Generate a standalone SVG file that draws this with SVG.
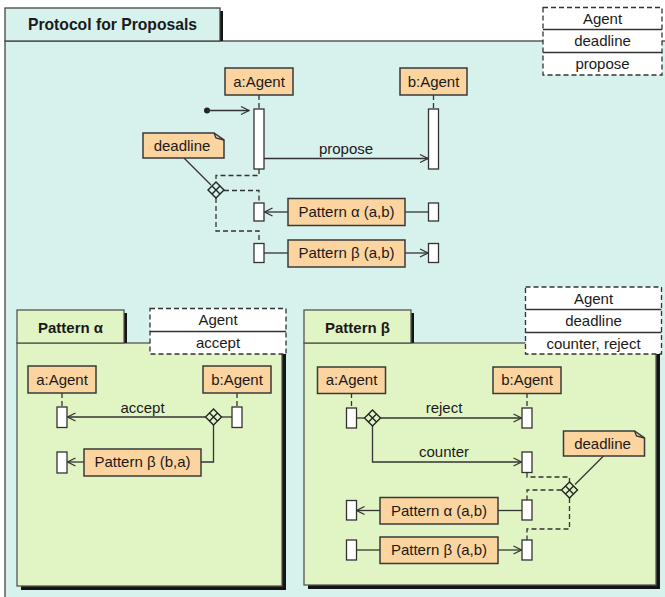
<svg xmlns="http://www.w3.org/2000/svg" width="665" height="597" viewBox="0 0 665 597">
<defs>
<style>
text{font-family:"Liberation Sans",Arial,sans-serif;font-size:15px;fill:#1a1a1a;text-anchor:middle}
.title{font-weight:bold}
.outer{fill:#d7f1ec;stroke:#444;stroke-width:1.3}
.sub{fill:#e1f5c4;stroke:#555;stroke-width:1.3}
.shadow{fill:#141414}
.dbox{fill:#fff;stroke:#333;stroke-width:1.3;stroke-dasharray:5,3}
.sep{stroke:#333;stroke-width:1.3}
.node{fill:#fcd49f;stroke:#3a3a3a;stroke-width:1.5}
.bar{fill:#fff;stroke:#333;stroke-width:1.3}
.ln{fill:none;stroke:#333;stroke-width:1.3}
.dash{fill:none;stroke:#333;stroke-width:1.3;stroke-dasharray:5,3}
.msg{fill:none;stroke:#333;stroke-width:1.3;marker-end:url(#arr)}
.dia{stroke:#222;stroke-width:1.4}
</style>
<marker id="arr" markerUnits="userSpaceOnUse" markerWidth="12" markerHeight="12" viewBox="0 0 12 12" refX="10" refY="6" orient="auto"><path d="M2,2 L10,6 L2,10" fill="none" stroke="#333" stroke-width="1.3"/></marker>
</defs>

<!-- Outer frame -->
<g id="frame-protocol">
<rect class="outer" x="5" y="41" width="700" height="600"/>
<rect class="shadow" x="8" y="11" width="215" height="30"/>
<rect class="outer" x="5" y="8" width="215" height="33"/>
<text class="title" x="112.5" y="30" style="font-size:15.7px">Protocol for Proposals</text>
</g>
<g id="sig-protocol">
<rect class="dbox" x="543" y="7.5" width="119" height="67.5"/>
<line class="sep" x1="543" y1="29.5" x2="662" y2="29.5"/>
<line class="sep" x1="543" y1="52.5" x2="662" y2="52.5"/>
<text x="602.5" y="24">Agent</text>
<text x="602.5" y="46">deadline</text>
<text x="602.5" y="69">propose</text>
</g>

<!-- Pattern alpha frame -->
<g id="frame-alpha">
<rect class="shadow" x="21" y="347" width="265" height="243"/>
<rect class="sub" x="17" y="343" width="265" height="243"/>
<rect class="shadow" x="20" y="313" width="107" height="30"/>
<rect class="sub" x="17" y="310" width="107" height="33"/>
<text class="title" x="70.5" y="332.5">Pattern α</text>
</g>
<g id="sig-alpha">
<rect class="dbox" x="150" y="308.5" width="136" height="45.5"/>
<line class="sep" x1="150" y1="331.5" x2="286" y2="331.5"/>
<text x="218" y="325">Agent</text>
<text x="218" y="348">accept</text>
</g>

<!-- Pattern beta frame -->
<g id="frame-beta">
<rect class="shadow" x="308" y="347" width="352" height="242"/>
<rect class="sub" x="304" y="343" width="352" height="242"/>
<rect class="shadow" x="307" y="313" width="107" height="30"/>
<rect class="sub" x="304" y="310" width="107" height="33"/>
<text class="title" x="357.5" y="332.5">Pattern β</text>
</g>
<g id="sig-beta">
<rect class="dbox" x="525.5" y="287" width="136" height="67"/>
<line class="sep" x1="525.5" y1="309.5" x2="661.5" y2="309.5"/>
<line class="sep" x1="525.5" y1="332.5" x2="661.5" y2="332.5"/>
<text x="593.5" y="304">Agent</text>
<text x="593.5" y="326">deadline</text>
<text x="593.5" y="349">counter, reject</text>
</g>

<!-- Connectors -->
<g id="connectors">
<!-- main lifelines -->
<line class="dash" x1="259" y1="95" x2="259" y2="109"/>
<line class="dash" x1="433.5" y1="95" x2="433.5" y2="109"/>
<circle cx="207" cy="110.5" r="3" fill="#222"/>
<line class="msg" x1="207" y1="110.5" x2="249" y2="110.5"/>
<line class="msg" x1="264" y1="158.5" x2="428" y2="158.5"/>
<text x="346" y="154">propose</text>
<line class="ln" x1="184" y1="158" x2="211" y2="185"/>
<path class="dash" d="M259,169 V175.5 H216 V182"/>
<path class="dash" d="M224,190.5 H259 V203"/>
<path class="dash" d="M216,198 V231 H259 V243"/>
<line class="msg" x1="288" y1="212" x2="264.5" y2="212"/>
<line class="ln" x1="405" y1="212" x2="428" y2="212"/>
<line class="ln" x1="264" y1="253" x2="288" y2="253"/>
<line class="msg" x1="405" y1="253" x2="428" y2="253"/>

<!-- alpha -->
<line class="dash" x1="62" y1="393" x2="62" y2="407"/>
<line class="dash" x1="237" y1="393" x2="237" y2="407"/>
<line class="msg" x1="205.5" y1="417" x2="67.5" y2="417"/>
<text x="142.5" y="412.5">accept</text>
<line class="ln" x1="221.5" y1="417" x2="232" y2="417"/>
<path class="ln" d="M213.5,425 V462 H201"/>
<line class="msg" x1="84" y1="462" x2="67.5" y2="462"/>

<!-- beta -->
<line class="dash" x1="351.5" y1="393" x2="351.5" y2="408"/>
<line class="dash" x1="527" y1="393" x2="527" y2="408"/>
<line class="ln" x1="356" y1="418" x2="364.5" y2="418"/>
<line class="msg" x1="380.5" y1="418" x2="521.5" y2="418"/>
<text x="444" y="413">reject</text>
<path class="msg" d="M372.5,426 V462 H521.5"/>
<text x="444" y="457">counter</text>
<line class="ln" x1="603.5" y1="456" x2="575" y2="484.5"/>
<path class="dash" d="M527,472.5 V477 H569.5 V482"/>
<path class="dash" d="M561.5,490 H527 V500"/>
<path class="dash" d="M569.5,498 V529 H527 V540"/>
<line class="msg" x1="380" y1="510.5" x2="356.5" y2="510.5"/>
<line class="ln" x1="498" y1="510.5" x2="522" y2="510.5"/>
<line class="ln" x1="356" y1="550" x2="380" y2="550"/>
<line class="msg" x1="498" y1="550" x2="521.5" y2="550"/>
</g>

<!-- Main nodes -->
<g id="main-a-agent"><rect class="node" x="225" y="68" width="68" height="27"/><text x="259" y="87">a:Agent</text></g>
<g id="main-b-agent"><rect class="node" x="400" y="68" width="67" height="27"/><text x="433.5" y="87">b:Agent</text></g>
<g id="main-a-bar"><rect class="bar" x="254" y="109" width="10" height="60"/></g>
<g id="main-b-bar"><rect class="bar" x="428.5" y="109" width="10" height="60"/></g>
<g id="main-deadline"><path class="node" d="M143,133 H214 L224,140 V158 H143 Z"/><path class="ln" d="M214,133 L216,138 L224,140"/><text x="182" y="151">deadline</text></g>
<g id="main-choice"><path class="dia" fill="#d7f1ec" d="M216,182 L224,190 L216,198 L208,190 Z M212,186 L220,194 M220,186 L212,194"/></g>
<g id="main-alpha-a-bar"><rect class="bar" x="254" y="203" width="10" height="18"/></g>
<g id="main-alpha-b-bar"><rect class="bar" x="428.5" y="203" width="10" height="18"/></g>
<g id="main-pattern-alpha"><rect class="node" x="288" y="198.5" width="117" height="27"/><text x="346.5" y="217">Pattern α (a,b)</text></g>
<g id="main-beta-a-bar"><rect class="bar" x="254" y="243.5" width="10" height="19"/></g>
<g id="main-beta-b-bar"><rect class="bar" x="428.5" y="243.5" width="10" height="19"/></g>
<g id="main-pattern-beta"><rect class="node" x="288" y="240" width="117" height="27"/><text x="346.5" y="258">Pattern β (a,b)</text></g>

<!-- Alpha nodes -->
<g id="alpha-a-agent"><rect class="node" x="28" y="366" width="68" height="27"/><text x="62" y="385">a:Agent</text></g>
<g id="alpha-b-agent"><rect class="node" x="203" y="366" width="68" height="27"/><text x="237" y="385">b:Agent</text></g>
<g id="alpha-a-bar"><rect class="bar" x="57" y="407" width="10" height="20.5"/></g>
<g id="alpha-b-bar"><rect class="bar" x="232" y="407" width="10" height="20.5"/></g>
<g id="alpha-choice"><path class="dia" fill="#e1f5c4" d="M213.5,409 L221.5,417 L213.5,425 L205.5,417 Z M209.5,413 L217.5,421 M217.5,413 L209.5,421"/></g>
<g id="alpha-ret-bar"><rect class="bar" x="57" y="452" width="10" height="21"/></g>
<g id="alpha-pattern-beta"><rect class="node" x="84" y="449" width="117" height="27"/><text x="142.5" y="467">Pattern β (b,a)</text></g>

<!-- Beta nodes -->
<g id="beta-a-agent"><rect class="node" x="317.5" y="367" width="68" height="26.5"/><text x="351.5" y="385">a:Agent</text></g>
<g id="beta-b-agent"><rect class="node" x="493" y="367" width="68" height="26.5"/><text x="527" y="385">b:Agent</text></g>
<g id="beta-a-bar"><rect class="bar" x="346.5" y="408" width="10" height="20"/></g>
<g id="beta-b-bar"><rect class="bar" x="522" y="408" width="10" height="20"/></g>
<g id="beta-choice"><path class="dia" fill="#e1f5c4" d="M372.5,410 L380.5,418 L372.5,426 L364.5,418 Z M368.5,414 L376.5,422 M376.5,414 L368.5,422"/></g>
<g id="beta-counter-bar"><rect class="bar" x="522" y="452" width="10" height="20.5"/></g>
<g id="beta-deadline"><path class="node" d="M563.5,431 H634.5 L644.5,438 V456 H563.5 Z"/><path class="ln" d="M634.5,431 L636.5,436 L644.5,438"/><text x="602.5" y="449">deadline</text></g>
<g id="beta-choice2"><path class="dia" fill="#e1f5c4" d="M569.5,482 L577.5,490 L569.5,498 L561.5,490 Z M565.5,486 L573.5,494 M573.5,486 L565.5,494"/></g>
<g id="beta-alpha-left-bar"><rect class="bar" x="346.5" y="500.5" width="10" height="19.5"/></g>
<g id="beta-alpha-right-bar"><rect class="bar" x="522" y="500" width="10" height="20"/></g>
<g id="beta-pattern-alpha"><rect class="node" x="380" y="497.5" width="118" height="26.5"/><text x="439" y="516">Pattern α (a,b)</text></g>
<g id="beta-beta-left-bar"><rect class="bar" x="346.5" y="540" width="10" height="20"/></g>
<g id="beta-beta-right-bar"><rect class="bar" x="522" y="540" width="10" height="20"/></g>
<g id="beta-pattern-beta"><rect class="node" x="380" y="537" width="118" height="26.5"/><text x="439" y="555">Pattern β (a,b)</text></g>
</svg>
